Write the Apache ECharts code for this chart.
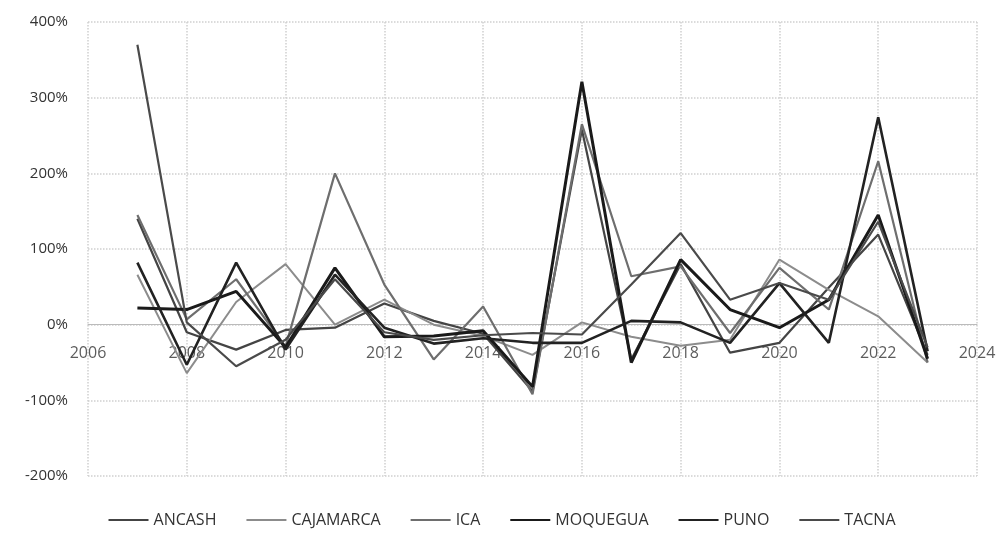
<!DOCTYPE html>
<html>
<head>
<meta charset="utf-8">
<script src="https://cdn.jsdelivr.net/npm/echarts@6/dist/echarts.min.js"></script>
<style>html,body{margin:0;padding:0;background:#fff}#c{width:1004px;height:533px}</style>
</head>
<body>
<div id="c"></div>
<script>
const years = [2007,2008,2009,2010,2011,2012,2013,2014,2015,2016,2017,2018,2019,2020,2021,2022,2023];
const xTickLabels = [2006,2008,2010,2012,2014,2016,2018,2020,2022,2024];
const ANCASH    = [140,-10,-33,-7,-4,28,5,-12,-88,258,-46,80,-37,-24,49,119,-40];
const CAJAMARCA = [66,-64,30,80,0,33,0,-15,-40,3,-16,-28,-20,86,46,11,-50];
const ICA       = [145,7,60,-29,200,53,-46,24,-92,265,64,77,-11,75,20,216,-50];
const MOQUEGUA  = [22,20,44,-30,75,-16,-15,-8,-82,321,-50,86,20,-4,33,145,-45];
const PUNO      = [82,-53,82,-33,66,-4,-25,-18,-24,-24,5,3,-24,55,-24,274,-35];
const TACNA     = [370,3,-55,-20,60,-10,-20,-14,-11,-13,53,121,33,55,33,136,-30];
const seriesNames = ['ANCASH','CAJAMARCA','ICA','MOQUEGUA','PUNO','TACNA'];
const seriesValues = [ANCASH, CAJAMARCA, ICA, MOQUEGUA, PUNO, TACNA];
const colors = ['#444444','#8c8c8c','#6e6e6e','#1a1a1a','#222222','#4a4a4a'];
const widths = [2.2,2,2.2,3,2.6,2.2];

const chart = echarts.init(document.getElementById('c'));
const lineSeries = seriesNames.map((n, i) => ({
  name: n, type: 'line', showSymbol: false, z: 3,
  data: years.map((y, k) => [y, seriesValues[i][k]]),
  itemStyle: {color: colors[i]},
  lineStyle: {color: colors[i], width: widths[i]}
}));
const tickLabelSeries = {
  name: 'xlabels', type: 'scatter', silent: true, symbolSize: 0, z: 1,
  data: xTickLabels.map(v => [v, 0]),
  label: {show: true, position: 'bottom', distance: 21, formatter: p => String(p.value[0]),
          fontSize: 16, color: '#333', fontFamily: 'Open Sans'}
};
chart.setOption({
  animation: false,
  textStyle: {fontFamily: 'Open Sans'},
  grid: {left: 88, right: 27, top: 22, bottom: 57},
  legend: {
    bottom: 0, left: 'center', icon: 'rect', itemWidth: 40, itemHeight: 2, itemGap: 30,
    textStyle: {fontSize: 16, color: '#333', fontFamily: 'Open Sans'},
    data: seriesNames
  },
  xAxis: {
    type: 'value', min: 2006, max: 2024, interval: 2,
    axisLine: {onZero: true, lineStyle: {color: '#bbbbbb'}},
    axisTick: {show: false},
    axisLabel: {show: false},
    splitLine: {show: true, lineStyle: {color: '#cfcfcf', type: 'dotted', width: 1.5}}
  },
  yAxis: {
    type: 'value', min: -200, max: 400, interval: 100,
    axisLine: {show: false}, axisTick: {show: false},
    axisLabel: {formatter: '{value}%', fontSize: 15, color: '#333', margin: 20},
    splitLine: {show: true, lineStyle: {color: '#cfcfcf', type: 'dotted', width: 1.5}}
  },
  series: [tickLabelSeries].concat(lineSeries)
});
</script>
</body>
</html>
